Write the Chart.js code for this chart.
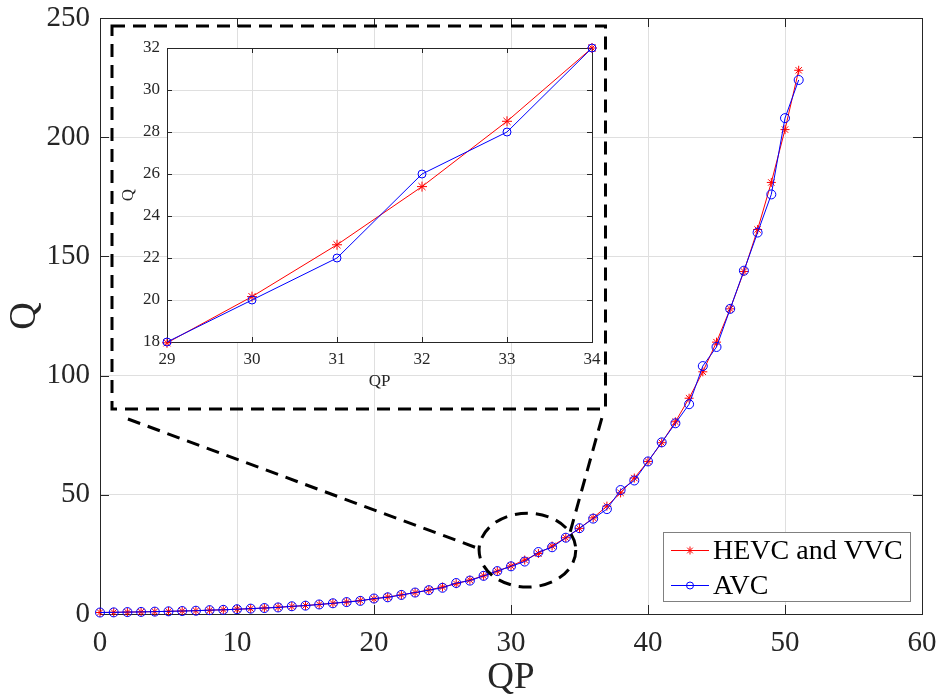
<!DOCTYPE html>
<html>
<head>
<meta charset="UTF-8">
<title>Q vs QP</title>
<script src="https://cdn.jsdelivr.net/npm/chart.js@4.4.0/dist/chart.umd.min.js"></script>
<style>
  body { margin: 0; background: #fff; }
  #wrap { position: relative; width: 939px; height: 697px; }
  #main { position: absolute; left: 0; top: 0; }
  #inset { position: absolute; left: 114px; top: 28px; }
</style>
</head>
<body>
<div id="wrap">
  <canvas id="main" width="939" height="697"></canvas>
  <canvas id="inset" width="490" height="380"></canvas>
</div>
<script>
// quantisation step per QP
var qp = [0, 1, 2, 3, 4, 5, 6, 7, 8, 9, 10, 11, 12, 13, 14, 15, 16, 17, 18, 19,
          20, 21, 22, 23, 24, 25, 26, 27, 28, 29, 30, 31, 32, 33, 34, 35, 36, 37, 38, 39,
          40, 41, 42, 43, 44, 45, 46, 47, 48, 49, 50, 51];
var hevcVvc = [0.63, 0.71, 0.79, 0.89, 1.00, 1.12, 1.26, 1.41, 1.59, 1.78,
               2.00, 2.24, 2.52, 2.83, 3.17, 3.56, 4.00, 4.49, 5.04, 5.66,
               6.35, 7.13, 8.00, 8.98, 10.08, 11.31, 12.70, 14.25, 16.00, 17.96,
               20.16, 22.63, 25.40, 28.51, 32.00, 35.92, 40.32, 45.25, 50.80, 57.02,
               64.00, 71.84, 80.63, 90.51, 101.59, 114.04, 128.00, 143.68, 161.27, 181.02,
               203.19, 228.07];
var avc = [0.625, 0.6875, 0.8125, 0.875, 1, 1.125, 1.25, 1.375, 1.625, 1.75,
           2, 2.25, 2.5, 2.75, 3.25, 3.5, 4, 4.5, 5, 5.5,
           6.5, 7, 8, 9, 10, 11, 13, 14, 16, 18,
           20, 22, 26, 28, 32, 36, 40, 44, 52, 56,
           64, 72, 80, 88, 104, 112, 128, 144, 160, 176,
           208, 224];
var seriesNames = ['HEVC and VVC', 'AVC'];

var xTicks = [0, 10, 20, 30, 40, 50, 60];
var yTicks = [0, 50, 100, 150, 200, 250];
var insetFrom = 29, insetTo = 34;
var insetXTicks = [29, 30, 31, 32, 33, 34];
var insetYTicks = [18, 20, 22, 24, 26, 28, 30, 32];

var serif = '"Liberation Serif", "Times New Roman", serif';
var axisColor = '#262626';
var gridColor = '#dfdfdf';

function points(ys, from, to) {
  var out = [];
  for (var i = 0; i < qp.length; i++) {
    if (qp[i] >= from && qp[i] <= to) out.push({x: qp[i], y: ys[i]});
  }
  return out;
}

function datasets(from, to, starR, circR) {
  return [{
    label: seriesNames[0],
    data: points(hevcVvc, from, to),
    borderColor: '#ff0000',
    backgroundColor: '#ff0000',
    borderWidth: 1,
    pointStyle: 'star',
    pointRadius: starR,
    pointBorderWidth: 1,
    clip: false,
    order: 1
  }, {
    label: seriesNames[1],
    data: points(avc, from, to),
    borderColor: '#0000ff',
    backgroundColor: 'rgba(0,0,0,0)',
    borderWidth: 1,
    pointStyle: 'circle',
    pointRadius: circR,
    pointBorderWidth: 1,
    clip: false,
    order: 0
  }];
}

// matlab-style box with inward ticks on all four sides
var boxPlugin = {
  id: 'box',
  beforeDraw: function(chart) {
    var a = chart.chartArea, ctx = chart.ctx;
    ctx.save();
    ctx.fillStyle = '#fff';
    ctx.fillRect(a.left, a.top, a.right - a.left, a.bottom - a.top);
    ctx.restore();
  },
  beforeDatasetsDraw: function(chart, args, opts) {
    var a = chart.chartArea, ctx = chart.ctx, len = opts.len;
    var xs = chart.scales.x, ys = chart.scales.y;
    ctx.save();
    ctx.strokeStyle = axisColor;
    ctx.lineWidth = 1;
    ctx.beginPath();
    xs.ticks.forEach(function(t) {
      var px = Math.round(xs.getPixelForValue(t.value)) + 0.5;
      ctx.moveTo(px, a.bottom); ctx.lineTo(px, a.bottom - len);
      ctx.moveTo(px, a.top); ctx.lineTo(px, a.top + len);
    });
    ys.ticks.forEach(function(t) {
      var py = Math.round(ys.getPixelForValue(t.value)) + 0.5;
      ctx.moveTo(a.left, py); ctx.lineTo(a.left + len, py);
      ctx.moveTo(a.right, py); ctx.lineTo(a.right - len, py);
    });
    ctx.stroke();
    ctx.strokeRect(Math.round(a.left) + 0.5, Math.round(a.top) + 0.5,
                   Math.round(a.right - a.left), Math.round(a.bottom - a.top));
    ctx.restore();
  }
};

// dashed frame around the zoomed panel, ellipse over QP 29-34 and connectors
var zoomMarks = {
  id: 'zoomMarks',
  afterDatasetsDraw: function(chart) {
    var ctx = chart.ctx, xs = chart.scales.x, ys = chart.scales.y;
    function X(v) { return xs.getPixelForValue(v); }
    function Y(v) { return ys.getPixelForValue(v); }
    ctx.save();
    ctx.strokeStyle = '#000';
    ctx.lineWidth = 3;
    ctx.setLineDash([13, 8]);
    ctx.strokeRect(112, 26, 493.5, 383);
    ctx.beginPath();
    ctx.ellipse(X(31.2), Y(26.8), X(31.2 + 3.53) - X(31.2), Y(26.8) - Y(26.8 + 15.5), 0, 0, Math.PI * 2);
    ctx.stroke();
    ctx.beginPath();
    ctx.moveTo(X(2.04), Y(81.8)); ctx.lineTo(X(27.52), Y(27.7));
    ctx.moveTo(X(36.63), Y(82.2)); ctx.lineTo(X(34.3), Y(34.0));
    ctx.stroke();
    ctx.restore();
  }
};

var legendBox = {
  id: 'legendBox',
  afterDraw: function(chart) {
    var a = chart.chartArea, ctx = chart.ctx;
    var w = 247, h = 69;
    var x0 = a.right - 12 - w, y0 = a.bottom - 13 - h;
    ctx.save();
    ctx.fillStyle = '#fff';
    ctx.fillRect(x0, y0, w, h);
    ctx.strokeStyle = '#808080';
    ctx.lineWidth = 1;
    ctx.strokeRect(x0 + 0.5, y0 + 0.5, w, h);
    ctx.font = '28px ' + serif;
    ctx.textBaseline = 'middle';
    ctx.textAlign = 'left';
    var rows = [chart.data.datasets[0], chart.data.datasets[1]];
    rows.forEach(function(ds, i) {
      var cy = y0 + 18 + i * 35 + 0.5;
      var mx = x0 + 27;
      ctx.strokeStyle = ds.borderColor;
      ctx.beginPath();
      ctx.moveTo(x0 + 8, cy); ctx.lineTo(x0 + 46, cy);
      ctx.stroke();
      ctx.beginPath();
      if (ds.pointStyle === 'star') {
        var r = 4;
        for (var k = 0; k < 4; k++) {
          var ang = k * Math.PI / 4;
          ctx.moveTo(mx - r * Math.cos(ang), cy - r * Math.sin(ang));
          ctx.lineTo(mx + r * Math.cos(ang), cy + r * Math.sin(ang));
        }
      } else {
        ctx.arc(mx, cy, 3.5, 0, Math.PI * 2);
      }
      ctx.stroke();
      ctx.fillStyle = '#000';
      ctx.fillText(ds.label, x0 + 50, cy + 1);
    });
    ctx.restore();
  }
};

function linearAxis(ticksArr, min, max, opt) {
  return {
    type: 'linear',
    min: min,
    max: max,
    afterBuildTicks: function(s) { s.ticks = ticksArr.map(function(v) { return {value: v}; }); },
    afterFit: function(s) {
      if (s.isHorizontal()) s.height = opt.size; else s.width = opt.size;
      // let layout.padding alone decide the plot box
      s.paddingLeft = s.paddingRight = s.paddingTop = s.paddingBottom = 0;
    },
    grid: { color: gridColor, lineWidth: 1, drawTicks: false },
    border: { display: false },
    ticks: {
      color: axisColor,
      padding: opt.pad,
      maxRotation: 0,
      autoSkip: false,
      font: { family: serif, size: opt.font }
    },
    title: {
      display: true,
      text: opt.title,
      color: axisColor,
      padding: opt.titlePad,
      font: { family: serif, size: opt.titleFont, lineHeight: 1 }
    }
  };
}

new Chart(document.getElementById('main'), {
  type: 'line',
  data: { datasets: datasets(0, 60, 4.5, 4.5) },
  plugins: [boxPlugin, zoomMarks, legendBox],
  options: {
    responsive: false,
    animation: false,
    layout: { padding: { top: 18, right: 17, left: 0, bottom: 0 } },
    plugins: { legend: { display: false }, tooltip: { enabled: false }, box: { len: 9 } },
    scales: {
      x: linearAxis(xTicks, 0, 60, { size: 83, pad: 12, font: 29, title: 'QP', titleFont: 37, titlePad: { bottom: 0 } }),
      y: linearAxis(yTicks, 0, 250, { size: 100, pad: 10, font: 29, title: 'Q', titleFont: 38, titlePad: { top: 6 } })
    }
  }
});

new Chart(document.getElementById('inset'), {
  type: 'line',
  data: { datasets: datasets(insetFrom, insetTo, 5, 4) },
  plugins: [boxPlugin],
  options: {
    responsive: false,
    animation: false,
    layout: { padding: { top: 20, right: 12, left: 0, bottom: 0 } },
    plugins: { legend: { display: false }, tooltip: { enabled: false }, box: { len: 5 } },
    scales: {
      x: linearAxis(insetXTicks, insetFrom, insetTo, { size: 66, pad: 7, font: 17, title: 'QP', titleFont: 17, titlePad: { bottom: 18 } }),
      y: linearAxis(insetYTicks, 18, 32, { size: 53, pad: 7, font: 17, title: 'Q', titleFont: 17, titlePad: { top: 6 } })
    }
  }
});
</script>
</body>
</html>
